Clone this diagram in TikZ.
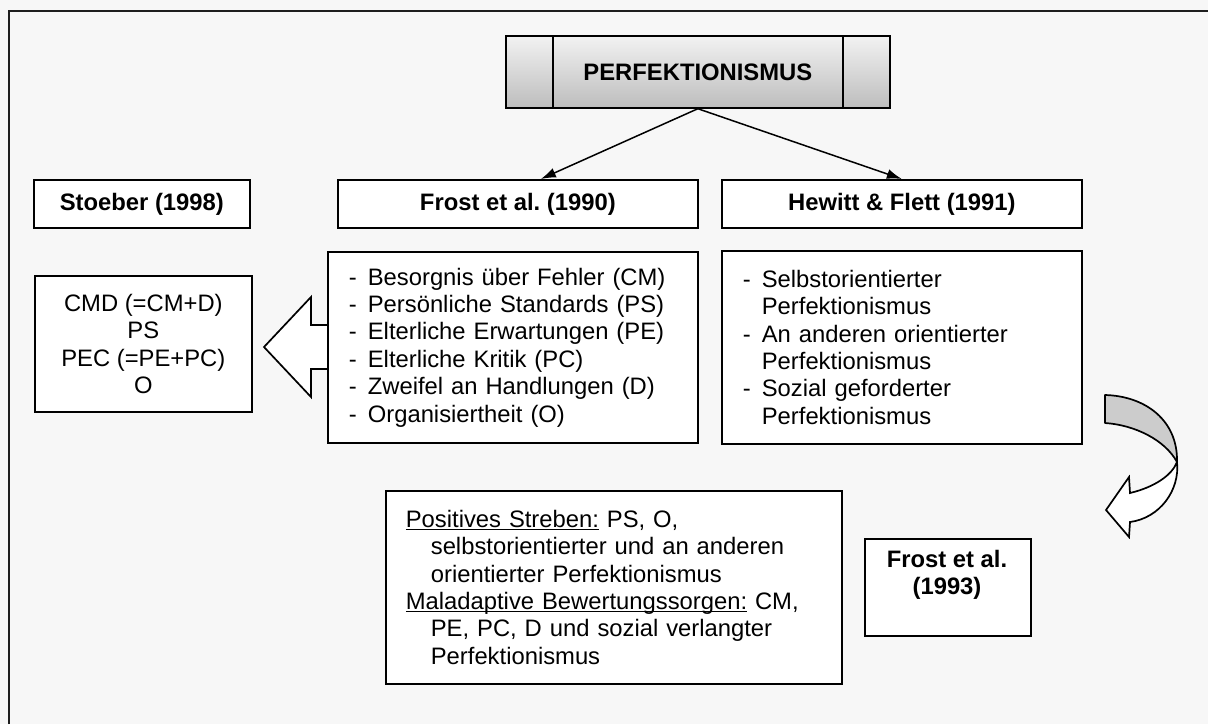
\documentclass[tikz,border=0pt]{standalone}
\usepackage{fontspec}
\setmainfont{Liberation Sans}
\usetikzlibrary{arrows.meta,calc}
\definecolor{pagebg}{HTML}{F7F7F7}
\definecolor{framecol}{HTML}{1E1E1E}
\definecolor{bandgray}{HTML}{CCCCCC}
\definecolor{titletop}{HTML}{F2F2F2}
\definecolor{titlebottom}{HTML}{BDBDBD}
% dash column of the bullet lists
\newcommand\listdash{\makebox[9.5pt][l]{-}}
% underline sitting just below the baseline
\newcommand\ulText[1]{\leavevmode\setbox0\hbox{#1}\rlap{\rule[-1.3pt]{\wd0}{0.55pt}}\box0\relax}
\tikzset{
  txt/.style={font=\fontsize{11.9}{13.7}\selectfont},
  boldtxt/.style={font=\fontsize{11.9}{13.7}\selectfont\bfseries},
  box/.style={draw=black, line width=0.85pt, fill=white, txt, inner sep=0pt, anchor=north west},
  header/.style={box, boldtxt, minimum height=24pt},
  link/.style={line width=0.75pt, -{Latex[length=7.5pt,width=5pt]}},
  blockarrow/.style={draw=black, line width=0.85pt, fill=white, line join=miter},
}
\begin{document}
\begin{tikzpicture}[x=0.5pt,y=-0.5pt]
\fill[pagebg] (0,0) rectangle (1208,724);
\useasboundingbox (0,0) rectangle (1208,724);
\draw[framecol, line width=1.3pt] (9,724) -- (9,11) -- (1208,11);

% title bar with two end caps
\node[draw=black, line width=0.85pt, top color=titletop, bottom color=titlebottom,
      minimum width=192pt, minimum height=36pt, inner sep=0pt, anchor=north west, boldtxt]
      (title) at (505,35) {PERFEKTIONISMUS};
\draw[line width=0.85pt] ($(title.north west)+(48,0)$) -- ($(title.south west)+(48,0)$);
\draw[line width=0.85pt] ($(title.north east)+(-48,0)$) -- ($(title.south east)+(-48,0)$);

% author headers
\node[header, minimum width=108pt] (stoeber) at (33,179) {Stoeber (1998)};
\node[header, minimum width=180pt] (frost) at (337,179) {Frost et al.\ (1990)};
\node[header, minimum width=180pt] (hewitt) at (721,179) {Hewitt \& Flett (1991)};

\draw[link] (title.south) -- ($(frost.north)+(23,0)$);
\draw[link] (title.south) -- (hewitt.north);

% block arrow pointing from the Frost scales to the Stoeber scales
\draw[blockarrow] (264,347) -- (311,297) -- (311,325) -- (340,325) -- (340,369)
  -- (311,369) -- (311,397) -- cycle;

\node[box, minimum width=108.5pt, minimum height=68pt, align=center] (stoeberlist) at (34,275)
  {CMD (=CM+D)\\PS\\PEC (=PE+PC)\\O};

\node[box, text width=164pt, inner xsep=10.5pt, minimum height=95.5pt, align=left] (frostlist) at (327,251)
  {\listdash Besorgnis über Fehler (CM)\\
   \listdash Persönliche Standards (PS)\\
   \listdash Elterliche Erwartungen (PE)\\
   \listdash Elterliche Kritik (PC)\\
   \listdash Zweifel an Handlungen (D)\\
   \listdash Organisiertheit (O)};

\node[box, text width=159pt, inner xsep=10.5pt, minimum height=96.5pt, align=left] (hewittlist) at (721,250)
  {\listdash Selbstorientierter\\
   \hspace*{9.5pt}Perfektionismus\\
   \listdash An anderen orientierter\\
   \hspace*{9.5pt}Perfektionismus\\
   \listdash Sozial geforderter\\
   \hspace*{9.5pt}Perfektionismus};

\node[box, text width=208pt, inner xsep=10pt, minimum height=96.5pt, align=left] (summary) at (385,490)
  {\ulText{Positives Streben:} PS, O,\\
   \hspace*{12.5pt}selbstorientierter und an anderen\\
   \hspace*{12.5pt}orientierter Perfektionismus\\
   \ulText{Maladaptive Bewertungssorgen:} CM,\\
   \hspace*{12.5pt}PE, PC, D und sozial verlangter\\
   \hspace*{12.5pt}Perfektionismus};

\node[box, minimum width=83pt, minimum height=48.5pt] (frost93) at (864,538) {};
\node[boldtxt, align=center, inner sep=0pt] (frost93label) at (947,575) {Frost et al.\\(1993)};

% curved ribbon arrow: grey back side, then white front with head
\draw[fill=bandgray, line width=0.85pt, line join=round]
  (1105,395) .. controls (1145,396) and (1178,420) .. (1177,462)
  .. controls (1165,440) and (1135,425) .. (1105,423) -- cycle;
\draw[fill=white, line width=0.85pt, line join=miter]
  (1177,462) .. controls (1180,490) and (1160,518) .. (1130,522)
  -- (1129,537) -- (1106,510) -- (1129,477) -- (1130,493)
  .. controls (1155,487) and (1172,475) .. (1177,462) -- cycle;
\end{tikzpicture}
\end{document}
